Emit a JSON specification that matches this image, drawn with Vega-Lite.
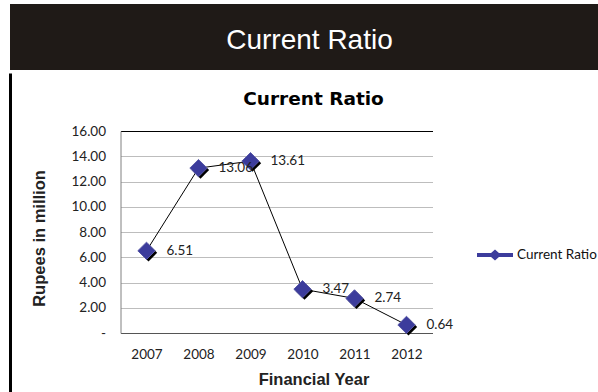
{
  "$schema": "https://vega.github.io/schema/vega-lite/v6.json",
  "padding": {"left": 7, "top": 4, "right": 0, "bottom": 0},
  "background": "white",
  "config": {"view": {"stroke": null}},
  "spacing": 0,
  "vconcat": [
    {
      "width": 591,
      "height": 66,
      "view": {"fill": "#1f1a17", "stroke": null},
      "data": {"values": [{"t": "Current Ratio"}]},
      "mark": {"type": "text", "color": "white", "font": "Liberation Sans", "fontSize": 28, "baseline": "middle", "align": "center", "dx": 4, "dy": 4},
      "encoding": {"text": {"field": "t"}}
    },
    {
      "spacing": 17.5,
      "hconcat": [
        {
          "width": 1,
          "height": 202,
          "data": {"values": [{"v": 0}, {"v": 1}]},
          "mark": {"type": "point", "opacity": 0},
          "encoding": {"y": {"field": "v", "type": "quantitative", "scale": {"domain": [0, 1], "range": [264, -58]},
            "axis": {"title": null, "labels": false, "ticks": false, "grid": false, "domainColor": "#000000", "domainWidth": 3}}}
        },
        {
          "width": 312,
          "height": 202,
          "title": {"text": ["", "Current Ratio"], "font": "DejaVu Sans", "fontSize": 18.5, "fontWeight": "bold", "color": "black", "lineHeight": 18.5, "offset": 16, "anchor": "middle", "dx": 37},
          "data": {"values": [
            {"year": "2007", "ratio": 6.51},
            {"year": "2008", "ratio": 13.06},
            {"year": "2009", "ratio": 13.61},
            {"year": "2010", "ratio": 3.47},
            {"year": "2011", "ratio": 2.74},
            {"year": "2012", "ratio": 0.64}
          ]},
          "encoding": {
            "x": {"field": "year", "type": "ordinal", "title": "Financial Year",
              "scale": {"type": "point", "padding": 0.5},
              "axis": {"labelAngle": 0, "ticks": false, "labelPadding": 14, "domainColor": "#555555", "grid": false, "labelFont": "Lato", "labelFontSize": 13.5, "labelColor": "#222222", "titleFont": "Liberation Sans", "titleFontSize": 16.5, "titleColor": "#222222", "titlePadding": 11, "titleX": 193}},
            "y": {"field": "ratio", "type": "quantitative", "title": "Rupees in million",
              "scale": {"domain": [0, 16]},
              "axis": {"values": [0, 2, 4, 6, 8, 10, 12, 14, 16], "labelExpr": "datum.value == 0 ? '-\u00a0\u00a0\u00a0\u00a0\u00a0\u00a0\u00a0' : format(datum.value, '.2f')", "ticks": false, "labelPadding": 15, "domainColor": "#808080", "gridColor": {"condition": {"test": "datum.value == 16", "value": "#000000"}, "value": "#bdbdbd"}, "labelFont": "Lato", "labelFontSize": 13.5, "labelColor": "#222222", "titleFont": "Liberation Sans", "titleFontSize": 16.5, "titleColor": "#222222", "titlePadding": 23, "titleY": 107}}
          },
          "layer": [
            {"mark": {"type": "line", "color": "black", "strokeWidth": 1}},
            {"mark": {"type": "point", "shape": "diamond", "size": 300, "filled": true, "color": "black", "opacity": 1, "xOffset": 2, "yOffset": 2}},
            {"mark": {"type": "point", "shape": "diamond", "size": 300, "filled": true, "opacity": 1, "stroke": "#5a5aa8", "strokeWidth": 1},
              "encoding": {"color": {"datum": "Current Ratio", "scale": {"range": ["#3c3c9c"]},
                "legend": {"title": null, "orient": "none", "legendX": 467, "legendY": 233, "symbolType": "M-1,-0.11L-0.22,-0.11L0,-0.3L0.22,-0.11L1,-0.11L1,0.11L0.22,0.11L0,0.3L-0.22,0.11L-1,0.11Z", "symbolSize": 1296, "symbolStrokeWidth": 0, "labelFont": "Lato", "labelFontSize": 13.5, "labelColor": "#111111",
                  "encode": {"symbols": {"update": {"fill": {"value": "#5c5cab"}, "opacity": {"value": 1}}}}}}}},
            {"mark": {"type": "text", "align": "left", "baseline": "middle", "dx": 20, "font": "Lato", "fontSize": 13.5, "color": "#222222"},
              "encoding": {"text": {"field": "ratio", "type": "quantitative", "format": ".2f"}}}
          ]
        }
      ]
    }
  ]
}
